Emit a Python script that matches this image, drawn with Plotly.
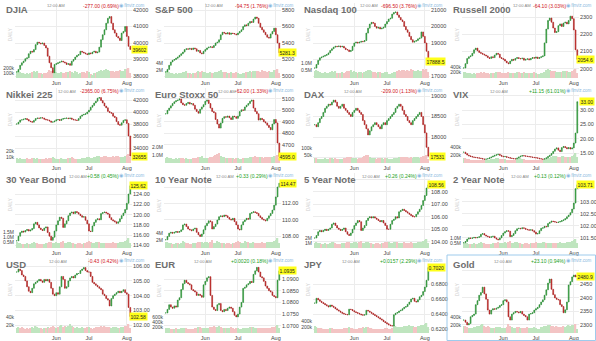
import plotly.graph_objects as go

W, H = 596, 341
N = 67
candle_index = list(range(N))
month_tick_index = [23, 42, 64]
month_tick_text = ["Jun", "Jul", "Aug"]

# ---------------- closes (daily, Apr 30 .. Aug 5) ----------------
djia_close = [38250, 38400, 38650, 38800, 38900, 39050, 39100, 39350, 39500, 39450,
              39600, 39900, 40050, 40000, 39950, 40000, 39850, 39700, 39200, 38800,
              38500, 38200, 38700, 38750, 38800, 38850, 38900, 38850, 38800, 38700,
              38750, 38650, 38900, 39000, 39150, 39250, 39300, 39500, 39450, 39400,
              39350, 39300, 39400, 39350, 39450, 39500, 39400, 39450, 39750, 40200,
              40500, 40800, 41200, 41500, 41600, 41200, 40800, 40600, 40400, 40300,
              40150, 40600, 40700, 41000, 40400, 39800, 39602]
spx_close = [5050, 5080, 5130, 5170, 5190, 5200, 5215, 5230, 5250, 5270,
             5290, 5320, 5330, 5325, 5335, 5320, 5340, 5330, 5300, 5310,
             5280, 5270, 5300, 5320, 5340, 5350, 5355, 5345, 5370, 5400,
             5410, 5440, 5500, 5530, 5520, 5510, 5525, 5505, 5520, 5515,
             5510, 5500, 5520, 5540, 5560, 5600, 5620, 5610, 5640, 5660,
             5650, 5690, 5715, 5700, 5640, 5590, 5560, 5530, 5500, 5470,
             5460, 5510, 5540, 5580, 5500, 5400, 5281.3]
ndx_close = [17480, 17700, 17950, 18100, 18150, 18200, 18250, 18300, 18400, 18550,
             18650, 18750, 18800, 18780, 18820, 18760, 18800, 18700, 18600, 18580,
             18480, 18550, 18800, 19000, 19050, 19000, 19050, 19100, 19080, 19150,
             19600, 19900, 20150, 20250, 20200, 20000, 19900, 19950, 19850, 19900,
             19950, 20150, 20300, 20450, 20500, 20750, 20850, 20880, 20700, 20550,
             20400, 20300, 20000, 19800, 19650, 19400, 19200, 19050, 19100, 19150,
             19250, 19300, 19670, 19400, 19000, 18500, 17888.5]
rut_close = [2005, 2030, 2060, 2070, 2075, 2090, 2110, 2120, 2105, 2095,
             2090, 2085, 2080, 2075, 2065, 2060, 2070, 2065, 2080, 2090,
             2085, 2065, 2060, 2055, 2045, 2035, 2030, 2045, 2055, 2050,
             2060, 2065, 2060, 2058, 2062, 2050, 2055, 2058, 2052, 2060,
             2065, 2062, 2068, 2060, 2065, 2070, 2075, 2150, 2230, 2280,
             2294, 2270, 2236, 2210, 2215, 2250, 2260, 2245, 2265, 2270,
             2260, 2280, 2305, 2290, 2225, 2110, 2054.6]
nikkei_close = [38000, 38300, 38650, 38700, 38800, 38900, 38750, 38500, 38400, 38300,
                38600, 38900, 39000, 38950, 39050, 39000, 38800, 38700, 38650, 38500,
                38300, 38350, 38500, 38700, 38750, 38600, 38800, 38900, 38950, 39000,
                38900, 39000, 38800, 38700, 38650, 38600, 38900, 39300, 39500, 39600,
                39700, 40000, 40300, 40800, 41100, 41500, 41800, 42300, 42400, 41900,
                41500, 41000, 40700, 40100, 39900, 39800, 39300, 39100, 38400, 37900,
                37800, 38200, 38600, 38700, 38100, 36000, 32655]
sx5e_close = [4970, 5000, 5020, 5040, 5060, 5075, 5085, 5090, 5100, 5065,
              5050, 5045, 5060, 5070, 5055, 5060, 5045, 5010, 4990, 4975,
              5010, 5030, 5050, 5080, 5090, 5060, 5020, 4990, 4980, 4920,
              4880, 4845, 4890, 4930, 4945, 4940, 4950, 4935, 4920, 4950,
              4945, 4930, 4950, 4990, 5005, 5000, 5030, 5045, 5060, 5080,
              5090, 5020, 4990, 4970, 4915, 4930, 4920, 4900, 4890, 4870,
              4850, 4830, 4880, 4920, 4890, 4714, 4595.0]
dax_close = [18300, 18250, 18350, 18450, 18500, 18600, 18700, 18750, 18800, 18780,
             18850, 18900, 18850, 18750, 18700, 18750, 18800, 18700, 18650, 18600,
             18550, 18500, 18600, 18650, 18700, 18650, 18600, 18550, 18400, 18300,
             18200, 18050, 18150, 18250, 18300, 18350, 18300, 18250, 18200, 18300,
             18350, 18300, 18400, 18450, 18500, 18550, 18600, 18700, 18750, 18800,
             18750, 18650, 18550, 18500, 18400, 18350, 18300, 18400, 18450, 18500,
             18550, 18600, 18500, 18300, 18100, 17750, 17531]
vix_close = [15.3, 14.8, 14.3, 14.0, 13.8, 13.6, 13.5, 13.4, 13.3, 13.2,
             13.1, 12.9, 12.8, 12.9, 13.0, 13.3, 13.6, 13.9, 14.2, 14.4,
             14.6, 14.2, 13.9, 13.7, 13.8, 13.5, 13.4, 13.2, 13.1, 13.0,
             12.9, 13.2, 13.6, 13.9, 14.1, 14.0, 13.9, 13.8, 13.7, 13.6,
             13.5, 13.4, 13.3, 13.2, 13.0, 12.9, 12.8, 13.0, 13.3, 13.8,
             14.2, 14.8, 15.6, 16.4, 16.8, 16.0, 15.5, 16.9, 17.3, 16.9,
             16.5, 16.9, 16.4, 16.8, 18.5, 22.0, 33.0]
zb_close = [114.9, 115.8, 116.5, 116.8, 116.6, 116.9, 117.1, 116.8, 117.0, 117.3,
            118.2, 118.5, 118.0, 117.4, 117.1, 116.9, 117.4, 117.6, 116.5, 115.8,
            115.0, 115.6, 116.8, 118.0, 118.8, 119.5, 119.3, 117.5, 118.2, 118.8,
            119.8, 120.3, 120.5, 120.2, 120.6, 120.4, 120.1, 119.8, 119.5, 119.6,
            118.9, 118.2, 116.8, 116.7, 117.8, 118.5, 119.0, 119.2, 119.0, 120.2,
            120.4, 120.5, 120.3, 120.1, 119.4, 119.0, 118.8, 118.6, 118.3, 118.6,
            119.2, 119.8, 120.3, 121.0, 122.2, 124.0, 125.62]
zn_close = [107.6, 108.0, 108.4, 108.5, 108.4, 108.5, 108.6, 108.5, 108.6, 108.8,
            109.4, 109.5, 109.2, 108.9, 108.8, 108.7, 108.9, 109.0, 108.5, 108.2,
            108.0, 108.3, 108.8, 109.3, 109.6, 109.9, 109.8, 108.9, 109.2, 109.5,
            110.0, 110.4, 110.5, 110.4, 110.6, 110.5, 110.3, 110.1, 110.0, 110.2,
            109.8, 109.4, 108.9, 108.8, 109.4, 109.8, 110.0, 110.2, 110.1, 110.8,
            110.9, 111.0, 110.9, 110.8, 110.5, 110.3, 110.1, 110.0, 109.9, 110.2,
            110.5, 110.8, 111.2, 111.8, 112.8, 114.0, 114.47]
zf_close = [104.3, 104.5, 104.8, 104.9, 104.8, 104.9, 105.0, 104.9, 105.0, 105.1,
            105.4, 105.5, 105.3, 105.1, 105.0, 104.9, 105.0, 105.1, 104.8, 104.6,
            104.5, 104.7, 105.0, 105.3, 105.5, 105.7, 105.6, 104.9, 105.1, 105.3,
            105.7, 105.9, 106.0, 105.9, 106.0, 105.9, 105.8, 105.7, 105.6, 105.7,
            105.5, 105.3, 105.0, 105.0, 105.4, 105.7, 105.8, 106.0, 105.9, 106.4,
            106.5, 106.6, 106.5, 106.4, 106.3, 106.2, 106.1, 106.0, 106.0, 106.2,
            106.4, 106.6, 106.9, 107.3, 107.7, 108.3, 108.56]
zt_close = [101.30, 101.35, 101.45, 101.50, 101.48, 101.50, 101.52, 101.50, 101.52, 101.55,
            101.65, 101.68, 101.62, 101.58, 101.55, 101.52, 101.55, 101.57, 101.50, 101.45,
            101.42, 101.50, 101.60, 101.70, 101.76, 101.80, 101.78, 101.55, 101.60, 101.68,
            101.80, 101.88, 101.90, 101.88, 101.92, 101.90, 101.86, 101.84, 101.82, 101.84,
            101.80, 101.74, 101.66, 101.68, 101.80, 101.90, 101.92, 101.98, 101.96, 102.10,
            102.15, 102.20, 102.18, 102.16, 102.14, 102.16, 102.18, 102.22, 102.25, 102.30,
            102.38, 102.45, 102.55, 102.70, 102.95, 103.55, 103.71]
usd_close = [105.6, 105.8, 105.7, 105.4, 105.3, 105.0, 104.6, 104.3, 104.2, 104.5,
             104.8, 104.9, 105.0, 105.1, 105.0, 104.9, 105.1, 105.0, 105.1, 104.9,
             104.5, 104.1, 104.0, 104.2, 104.1, 104.6, 105.3, 105.1, 104.5, 104.6,
             105.0, 105.2, 105.3, 105.2, 105.4, 105.5, 105.5, 105.7, 105.8, 105.9,
             105.7, 105.6, 105.6, 105.3, 104.9, 104.8, 104.7, 104.6, 104.5, 104.4,
             104.1, 104.0, 103.8, 103.7, 103.3, 103.8, 104.0, 104.1, 104.2, 104.3,
             104.2, 104.3, 104.4, 104.2, 104.1, 103.2, 102.58]
eur_close = [1.0755, 1.0770, 1.0790, 1.0780, 1.0775, 1.0785, 1.0780, 1.0810, 1.0820, 1.0855,
             1.0880, 1.0895, 1.0885, 1.0880, 1.0875, 1.0855, 1.0850, 1.0845, 1.0830, 1.0835,
             1.0830, 1.0822, 1.0875, 1.0890, 1.0905, 1.0910, 1.0830, 1.0780, 1.0770, 1.0765,
             1.0790, 1.0795, 1.0765, 1.0760, 1.0770, 1.0765, 1.0775, 1.0780, 1.0775, 1.0760,
             1.0745, 1.0738, 1.0750, 1.0780, 1.0800, 1.0860, 1.0865, 1.0875, 1.0880, 1.0890,
             1.0885, 1.0920, 1.0935, 1.0950, 1.0930, 1.0910, 1.0905, 1.0890, 1.0870, 1.0860,
             1.0850, 1.0845, 1.0830, 1.0825, 1.0820, 1.0895, 1.0935]
jpy_close = [0.6545, 0.6610, 0.6590, 0.6570, 0.6555, 0.6540, 0.6525, 0.6510, 0.6495, 0.6520,
             0.6505, 0.6490, 0.6470, 0.6455, 0.6440, 0.6425, 0.6410, 0.6400, 0.6395, 0.6390,
             0.6465, 0.6460, 0.6445, 0.6430, 0.6420, 0.6410, 0.6400, 0.6390, 0.6385, 0.6390,
             0.6450, 0.6440, 0.6425, 0.6410, 0.6395, 0.6380, 0.6365, 0.6350, 0.6335, 0.6320,
             0.6300, 0.6285, 0.6270, 0.6255, 0.6245, 0.6240, 0.6390, 0.6410, 0.6420, 0.6440,
             0.6450, 0.6470, 0.6490, 0.6500, 0.6530, 0.6560, 0.6600, 0.6610, 0.6570, 0.6560,
             0.6590, 0.6630, 0.6650, 0.6700, 0.6760, 0.6850, 0.7020]
gold_close = [2318, 2310, 2300, 2305, 2330, 2335, 2340, 2375, 2390, 2410,
              2420, 2440, 2415, 2395, 2355, 2340, 2355, 2360, 2358, 2362,
              2365, 2372, 2375, 2390, 2393, 2385, 2330, 2318, 2340, 2345,
              2350, 2348, 2345, 2350, 2340, 2335, 2330, 2318, 2340, 2342,
              2345, 2355, 2360, 2365, 2375, 2385, 2393, 2410, 2430, 2455,
              2470, 2432, 2412, 2400, 2395, 2393, 2375, 2368, 2345, 2356,
              2385, 2448, 2460, 2478, 2485, 2478, 2480.9]

# ---------------- volume (relative bar heights) ----------------
djia_vol = [6,7,6,5,5,4,5,4,5,6, 7,6,7,5,5,4,5,5,6,8, 7,8,6,6,5,5,6,5,5,6, 6,7,6,5,7,6,4,5,6,6, 5,7,6,4,3,5,5,6,7,8, 7,8,9,8,7,7,7,6,7,7, 8,7,7,9,9,10,5]
spx_vol = [6,7,6,5,5,4,5,4,5,5, 6,6,7,5,5,4,5,5,6,7, 6,7,6,6,5,5,6,5,5,6, 6,7,8,6,6,6,5,5,6,5, 5,6,5,4,4,5,5,6,6,7, 6,7,7,7,7,6,8,7,7,6, 7,6,6,8,8,9,5]
ndx_vol = [7,8,7,6,5,5,6,5,5,6, 7,6,7,5,5,5,6,5,6,7, 7,8,6,7,6,5,6,6,5,6, 7,8,8,7,6,6,5,6,6,5, 5,6,6,4,4,5,6,6,7,8, 7,8,8,7,8,7,9,8,7,7, 8,7,7,9,8,9,6]
rut_vol = [6,6,5,5,5,4,5,4,5,5, 6,5,6,5,5,4,5,5,5,6, 6,6,5,5,5,5,6,5,5,5, 5,6,6,5,5,6,5,5,5,5, 5,6,5,4,4,5,5,6,8,9, 8,7,7,7,6,6,6,6,7,7, 7,6,6,7,8,9,5]
nikkei_vol = [5,4,5,4,4,4,5,4,4,5, 5,4,5,4,4,4,4,5,4,5, 5,6,5,4,4,4,5,4,4,4, 5,5,6,5,4,4,4,4,5,5, 5,6,6,5,5,6,6,7,7,6, 6,7,7,6,6,6,7,6,7,7, 6,6,6,7,8,9,6]
sx5e_vol = [5,6,5,5,4,4,5,4,5,5, 5,4,5,4,4,4,5,5,5,6, 6,7,5,5,5,5,6,6,7,8, 9,10,7,6,6,5,5,5,5,5, 4,5,5,4,4,5,5,5,5,6, 6,6,7,6,6,6,6,5,6,6, 6,6,6,7,7,8,5]
dax_vol = [5,5,4,4,4,4,5,4,4,5, 5,4,5,4,4,4,4,5,5,6, 6,6,5,5,5,4,5,5,6,7, 8,8,6,5,5,5,4,5,5,5, 4,5,5,4,4,4,5,5,5,6, 6,6,6,6,6,5,6,5,6,6, 6,5,6,7,7,8,4]
vix_vol = [5,5,4,4,3,3,3,3,3,3, 3,3,3,3,3,3,4,4,4,5, 5,4,4,4,4,3,3,3,3,3, 3,4,4,5,4,4,3,3,3,3, 3,3,3,3,3,3,3,3,4,5, 5,6,7,7,7,6,6,7,7,6, 6,6,6,7,8,10,6]
zb_vol = [6,5,5,4,4,4,5,4,4,5, 6,5,5,4,4,4,4,5,5,6, 6,5,5,6,5,5,6,7,5,5, 6,6,5,5,4,4,5,5,4,5, 5,6,7,6,5,5,6,6,6,5, 5,5,5,5,5,5,6,5,5,5, 6,6,6,7,8,10,5]
zn_vol = [6,6,5,5,4,4,5,5,4,5, 7,6,5,5,4,4,5,5,5,6, 6,6,5,6,6,5,6,8,5,5, 7,6,5,5,5,4,5,5,4,5, 5,6,7,6,5,5,7,6,6,5, 5,6,5,5,5,5,6,5,5,6, 6,6,6,7,8,10,5]
zf_vol = [5,6,5,5,4,4,5,4,4,5, 6,6,5,4,4,4,5,5,5,6, 6,5,5,6,6,5,6,7,5,5, 6,6,5,5,4,4,5,5,4,5, 5,6,6,6,5,5,6,6,6,5, 5,5,6,5,5,5,6,5,5,5, 6,6,6,7,8,9,5]
zt_vol = [5,5,5,4,4,4,5,4,4,5, 6,5,5,4,4,4,4,5,5,5, 6,5,5,5,6,5,6,7,5,5, 6,6,5,5,4,4,5,5,4,5, 5,5,6,5,5,5,6,6,5,5, 5,5,5,5,5,5,6,5,5,5, 6,6,6,7,8,9,5]
usd_vol = [5,6,5,6,5,4,5,4,5,6, 5,7,6,5,5,4,5,5,6,5, 6,7,6,5,6,7,8,6,7,6, 7,9,7,6,5,6,5,5,6,5, 5,6,6,5,4,5,6,6,6,7, 6,7,6,6,6,5,6,6,6,5, 5,6,6,7,7,9,5]
eur_vol = [5,5,5,4,4,4,5,4,4,5, 5,5,5,4,4,4,4,5,5,6, 6,5,5,5,5,5,6,6,7,6, 6,7,6,5,5,5,5,5,6,5, 4,5,5,4,4,5,5,5,5,6, 6,6,5,5,5,5,5,5,5,5, 5,5,6,6,7,8,5]
jpy_vol = [7,6,5,5,5,4,4,4,4,5, 5,4,4,4,4,4,4,5,5,5, 6,5,5,4,4,4,5,5,6,5, 6,6,5,5,4,4,4,4,4,4, 4,5,5,4,4,5,8,7,6,6, 6,6,7,7,7,8,7,7,6,6, 7,7,8,8,9,10,6]
gold_vol = [7,7,6,5,5,5,6,6,7,7, 8,9,7,6,7,6,5,5,5,6, 6,6,5,5,5,6,9,7,6,5, 5,6,6,5,5,5,5,6,5,5, 5,6,5,4,4,6,6,7,7,8, 8,7,7,6,7,6,6,6,7,6, 7,8,7,8,8,9,4]

# ---------------- panel texts / axes ----------------
titles = ["DJIA", "S&P 500", "Nasdaq 100", "Russell 2000",
          "Nikkei 225", "Euro Stoxx 50", "DAX", "VIX",
          "30 Year Bond", "10 Year Note", "5 Year Note", "2 Year Note",
          "USD", "EUR", "JPY", "Gold"]
changes = ["-277.00 (0.69%)", "-94.75 (1.76%)", "-696.50 (3.76%)", "-64.10 (3.03%)",
           "-2365.00 (6.75%)", "-62.00 (1.33%)", "-209.00 (1.13%)", "+11.15 (61.01%)",
           "+0.58 (0.45%)", "+0.33 (0.29%)", "+0.26 (0.24%)", "+0.13 (0.12%)",
           "-0.43 (0.42%)", "+0.0020 (0.18%)", "+0.0157 (2.29%)", "+23.10 (0.94%)"]
last_labels = ["39602", "5281.3", "17888.5", "2054.6",
               "32655", "4595.0", "17531", "33.00",
               "125.62", "114.47", "108.56", "103.71",
               "102.58", "1.0935", "0.7020", "2480.9"]
closes = [djia_close, spx_close, ndx_close, rut_close,
          nikkei_close, sx5e_close, dax_close, vix_close,
          zb_close, zn_close, zf_close, zt_close,
          usd_close, eur_close, jpy_close, gold_close]
vols = [djia_vol, spx_vol, ndx_vol, rut_vol,
        nikkei_vol, sx5e_vol, dax_vol, vix_vol,
        zb_vol, zn_vol, zf_vol, zt_vol,
        usd_vol, eur_vol, jpy_vol, gold_vol]
vol_units = [20000, 267000, 67000, 36000,
             1670, 125000, 6700, 25000,
             93000, 270000, 200000, 100000,
             2500, 37000, 33000, 25000]
vol_ticks = [[1e5, 2e5], [2e6, 4e6], [5e5, 1e6], [2e5, 4e5],
             [1e4, 2e4], [1e6, 2e6], [5e4, 1e5], [2e5, 4e5],
             [5e5, 1e6, 1.5e6], [2e6, 4e6], [1e6, 2e6], [5e5, 1e6],
             [2e4, 4e4], [2e5, 4e5, 6e5], [2e5, 4e5], [2e5, 4e5]]
vol_tick_text = [["100k", "200k"], ["2M", "4M"], ["0.5M", "1.0M"], ["200k", "400k"],
                 ["10k", "20k"], ["1.0M", "2.0M"], ["50k", "100k"], ["200k", "400k"],
                 ["0.5M", "1.0M", "1.5M"], ["2M", "4M"], ["1M", "2M"], ["0.5M", "1.0M"],
                 ["20k", "40k"], ["200k", "400k", "600k"], ["200k", "400k"], ["200k", "400k"]]
price_ticks = [[38000, 39000, 40000, 41000, 42000], [5000, 5200, 5400, 5600, 5800],
               [17000, 18000, 19000, 20000, 21000], [2000, 2100, 2200, 2300],
               [34000, 36000, 38000, 40000, 42000], [4700, 4800, 4900, 5000, 5100],
               [17500, 18000, 18500, 19000], [15, 20, 25, 30, 35],
               [114, 116, 118, 120, 122, 124], [108, 110, 112, 114],
               [104, 105, 106, 107, 108, 109], [101.5, 102, 102.5, 103, 103.5],
               [102, 103, 104, 105, 106], [1.07, 1.075, 1.08, 1.085, 1.09],
               [0.62, 0.64, 0.66, 0.68], [2300, 2350, 2400, 2450, 2500]]
price_fmt = ["{:.0f}", "{:.0f}", "{:.0f}", "{:.0f}",
             "{:.0f}", "{:.0f}", "{:.0f}", "{:.2f}",
             "{:.2f}", "{:.2f}", "{:.2f}", "{:.2f}",
             "{:.2f}", "{:.4f}", "{:.4f}", "{:.0f}"]
price_range = [[37879, 42424], [4976, 5885], [16879, 21424], [1947, 2381],
               [31500, 44000], [4539, 5196], [17366, 19195], [11.5, 37.8],
               [113.5, 128.1], [106.6, 115.7], [103.5, 109.5], [101.08, 104.2],
               [101.47, 106.55], [1.0669, 1.0990], [0.6147, 0.7147], [2270, 2548]]
time_cx = [56, 65, 71, 75, 66.5, 77.7, 55, 52, 77.6, 76, 73.4, 73.4, 57.5, 54, 53, 56]

FONT = "Liberation Sans, Arial, sans-serif"
GRID = "#ececec"
UP_FILL, UP_LINE = "#3fae49", "#25862f"
DN_FILL, DN_LINE = "#d8322e", "#a31d1d"
VOL_UP, VOL_DN = "#bfe5bf", "#f3c4c4"
TXT = "#444444"
PLOT_H = 75.0


def px(x):
    return x / W


def py(y):
    return 1 - y / H


fig = go.Figure()
layout = dict(width=W, height=H, margin=dict(l=0, r=0, t=0, b=0),
              paper_bgcolor="white", plot_bgcolor="white", showlegend=False,
              annotations=[], shapes=[])

for i in range(16):
    r, c = divmod(i, 4)
    ox, oy = c * 149, r * 85
    close = closes[i]
    opens = [close[0]] + close[:-1]
    highs = [max(o, cl) for o, cl in zip(opens, close)]
    lows = [min(o, cl) for o, cl in zip(opens, close)]
    vol = [lv * vol_units[i] for lv in vols[i]]
    vcol = [VOL_UP if cl >= o else VOL_DN for o, cl in zip(opens, close)]
    xa = "x" if i == 0 else f"x{i+1}"
    yv = "y" if i == 0 else f"y{i+1}"
    yp = f"y{i+17}"

    fig.add_trace(go.Bar(x=candle_index, y=vol, xaxis=xa, yaxis=yv,
                         marker=dict(color=vcol, line=dict(width=0)),
                         width=0.8, hoverinfo="skip"))
    fig.add_trace(go.Candlestick(x=candle_index, open=opens, high=highs, low=lows, close=close,
                                 xaxis=xa, yaxis=yp, whiskerwidth=0,
                                 increasing=dict(fillcolor=UP_FILL, line=dict(color=UP_LINE, width=0.6)),
                                 decreasing=dict(fillcolor=DN_FILL, line=dict(color=DN_LINE, width=0.6))))

    # tick labels hidden behind the last-price box stay as gridlines only
    lo, hi = price_range[i]
    per_px = (hi - lo) / PLOT_H
    ptext = [("" if abs(v - close[-1]) / per_px < 6 else price_fmt[i].format(v))
             for v in price_ticks[i]]

    xdom = [px(ox + 15), px(ox + 132)]
    ydom = [py(oy + 78), py(oy + 3)]
    sfx = "" if i == 0 else str(i + 1)
    layout[f"xaxis{sfx}"] = dict(domain=xdom, anchor=yv, range=[-1, N], tickvals=month_tick_index,
                                 ticktext=month_tick_text, showgrid=True, gridcolor=GRID, gridwidth=1,
                                 zeroline=False, showline=False, ticks="", fixedrange=True,
                                 tickfont=dict(size=5.5, color=TXT, family=FONT),
                                 rangeslider=dict(visible=False))
    layout[f"yaxis{sfx}"] = dict(domain=ydom, anchor=xa, range=[0, PLOT_H * vol_units[i]],
                                 tickvals=vol_ticks[i], ticktext=vol_tick_text[i], side="left",
                                 showgrid=False, zeroline=False, showline=False, ticks="",
                                 tickfont=dict(size=5, color=TXT, family=FONT), fixedrange=True)
    layout[f"yaxis{i+17}"] = dict(overlaying=yv, anchor=xa, side="right", range=price_range[i],
                                  tickvals=price_ticks[i], ticktext=ptext,
                                  showgrid=True, gridcolor=GRID, gridwidth=1, zeroline=False,
                                  showline=False, ticks="", fixedrange=True,
                                  tickfont=dict(size=5.5, color=TXT, family=FONT))

    up = changes[i].startswith("+")
    ann = layout["annotations"]
    ann.append(dict(text=f"<b>{titles[i]}</b>", x=px(ox + 4), y=py(oy + 2), xref="paper", yref="paper",
                    xanchor="left", yanchor="top", showarrow=False,
                    font=dict(size=9.5, color="#6e6e6e", family=FONT)))
    ann.append(dict(text="12:00 AM", x=px(ox + time_cx[i]), y=py(oy + 6), xref="paper", yref="paper",
                    xanchor="center", yanchor="middle", showarrow=False,
                    font=dict(size=4.2, color="#888888", family=FONT)))
    ann.append(dict(text=changes[i], x=px(ox + 121), y=py(oy + 6), xref="paper", yref="paper",
                    xanchor="right", yanchor="middle", showarrow=False,
                    font=dict(size=5, color="#22a022" if up else "#d0141b", family=FONT)))
    ann.append(dict(text="\u25c9 finviz.com", x=px(ox + 147), y=py(oy + 5.5), xref="paper", yref="paper",
                    xanchor="right", yanchor="middle", showarrow=False,
                    font=dict(size=4.5, color="#8ab8e0", family=FONT)))
    ann.append(dict(text="DAILY", x=px(ox + 10), y=py(oy + 35), xref="paper", yref="paper",
                    xanchor="center", yanchor="middle", showarrow=False, textangle=-90,
                    font=dict(size=4.5, color="#cfcfcf", family=FONT)))
    ann.append(dict(text=last_labels[i], x=px(min(ox + 148, 595.5)), y=close[-1], xref="paper", yref=yp,
                    xanchor="right", yanchor="middle", showarrow=False, bgcolor="#ffff1a",
                    borderpad=0.5, font=dict(size=5, color="#222222", family=FONT)))

layout["shapes"].append(dict(type="rect", xref="paper", yref="paper",
                             x0=px(447), x1=px(595.5), y0=py(340.5), y1=py(255),
                             line=dict(color="#9ecbec", width=1), fillcolor="rgba(0,0,0,0)"))

fig.update_layout(**layout)
fig.write_html("out.html", config={"displayModeBar": False})
